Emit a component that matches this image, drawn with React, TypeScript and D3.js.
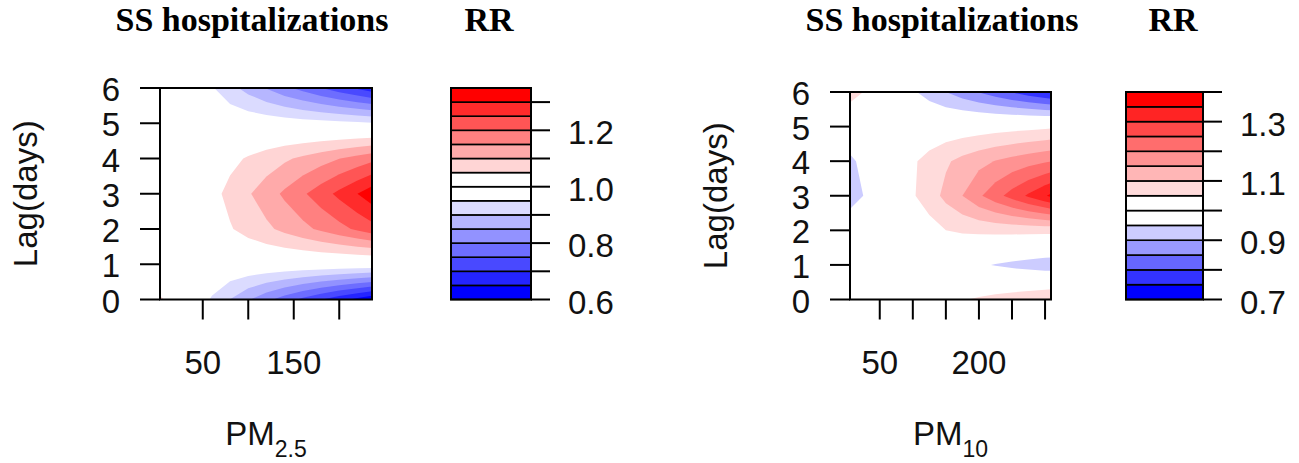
import React from 'react';
import * as d3 from 'd3';

// ---- data ----
const lags = [0, 1, 2, 3, 4, 5, 6];
const lagTicks = [0, 1, 2, 3, 4, 5, 6];

// PM2.5 panel: RR by lag (rows) and PM2.5 (columns)
const pm25 = [3, 20, 40, 60, 80, 100, 120, 140, 160, 180, 200, 220, 236];
const rrPm25 = [
  [1.056, 1.033, 0.993, 0.944, 0.899, 0.855, 0.814, 0.775, 0.738, 0.702, 0.668, 0.636, 0.61],
  [1.001, 1.001, 1.0, 0.999, 0.998, 0.997, 0.996, 0.995, 0.994, 0.993, 0.992, 0.991, 0.99],
  [0.977, 0.987, 1.003, 1.024, 1.046, 1.068, 1.09, 1.113, 1.136, 1.16, 1.184, 1.209, 1.23],
  [0.969, 0.982, 1.004, 1.034, 1.064, 1.095, 1.126, 1.159, 1.193, 1.227, 1.263, 1.3, 1.331],
  [0.981, 0.989, 1.003, 1.02, 1.037, 1.055, 1.073, 1.092, 1.11, 1.129, 1.149, 1.168, 1.185],
  [1.005, 1.003, 0.999, 0.995, 0.99, 0.986, 0.981, 0.977, 0.972, 0.968, 0.963, 0.959, 0.955],
  [1.045, 1.026, 0.994, 0.955, 0.917, 0.881, 0.847, 0.813, 0.782, 0.751, 0.721, 0.693, 0.67],
];
const levelsPm25 = [0.6, 0.65, 0.7, 0.75, 0.8, 0.85, 0.9, 0.95, 1.0, 1.05, 1.1, 1.15, 1.2, 1.25, 1.3, 1.35];
const xTicksPm25 = [50, 100, 150, 200];
const xLabelsPm25 = ['50', '', '150', ''];
const keyTicksPm25 = [0.6, 0.7, 0.8, 0.9, 1.0, 1.1, 1.2, 1.3];
const keyLabelsPm25 = ['0.6', '', '0.8', '', '1.0', '', '1.2', ''];

// PM10 panel
const pm10 = [5, 25, 50, 75, 100, 125, 150, 175, 200, 225, 250, 275, 300, 309];
const rrPm10 = [
  [0.976, 0.984, 0.994, 1.004, 1.015, 1.025, 1.036, 1.046, 1.057, 1.068, 1.079, 1.09, 1.101, 1.105],
  [1.02, 1.015, 1.005, 1.0, 0.995, 0.988, 0.98, 0.97, 0.958, 0.947, 0.937, 0.928, 0.92, 0.918],
  [0.985, 0.99, 0.995, 1.0, 1.01, 1.03, 1.05, 1.058, 1.062, 1.064, 1.065, 1.066, 1.066, 1.066],
  [0.928, 0.95, 0.982, 1.013, 1.045, 1.075, 1.114, 1.15, 1.192, 1.231, 1.27, 1.308, 1.346, 1.36],
  [0.94, 0.962, 0.99, 1.02, 1.043, 1.068, 1.093, 1.115, 1.135, 1.152, 1.167, 1.181, 1.194, 1.198],
  [0.99, 0.993, 0.998, 1.002, 1.006, 1.01, 1.014, 1.018, 1.022, 1.027, 1.031, 1.035, 1.039, 1.041],
  [1.076, 1.05, 1.018, 0.987, 0.957, 0.929, 0.9, 0.873, 0.847, 0.821, 0.796, 0.772, 0.749, 0.741],
];
const levelsPm10 = [0.7, 0.75, 0.8, 0.85, 0.9, 0.95, 1.0, 1.05, 1.1, 1.15, 1.2, 1.25, 1.3, 1.35, 1.4];
const xTicksPm10 = [50, 100, 150, 200, 250, 300];
const xLabelsPm10 = ['50', '', '', '200', '', ''];
const keyTicksPm10 = [0.7, 0.8, 0.9, 1.0, 1.1, 1.2, 1.3, 1.4];
const keyLabelsPm10 = ['0.7', '', '0.9', '', '1.1', '', '1.3', ''];

const SANS = "'Liberation Sans', Arial, sans-serif";
const SERIF = "'Liberation Serif', 'Times New Roman', serif";

// blue->white below 1, white->red above 1 (as dlnm does)
function bandColors(levels: number[]) {
  const nLow = levels.filter((l) => l < 1).length;
  const nHigh = levels.filter((l) => l > 1).length;
  const lo = d3.interpolateRgb('blue', 'white');
  const hi = d3.interpolateRgb('white', 'red');
  return [
    ...d3.range(nLow).map((i) => lo(i / (nLow - 1))),
    ...d3.range(nHigh).map((i) => hi(i / (nHigh - 1))),
  ];
}

function Panel(props: any) {
  const { pm, rr, levels, xTicks, xLabels, keyTicks, keyLabels, box, keyBox, sub, titleX, rrX, lagX, id } = props;
  const x = d3.scaleLinear().domain([pm[0], pm[pm.length - 1]]).range([box.x0, box.x1]);
  const y = d3.scaleLinear().domain([0, 6]).range([box.y1, box.y0]);
  const nx = pm.length;
  const ny = lags.length;
  // grid index space -> data space (cell centres at i + 0.5)
  const gx = d3.scaleLinear().domain([0, ...d3.range(nx).map((i) => i + 0.5), nx]).range([pm[0], ...pm, pm[nx - 1]]);
  const gy = d3.scaleLinear().domain([0, ...d3.range(ny).map((i) => i + 0.5), ny]).range([lags[0], ...lags, lags[ny - 1]]);
  const path = d3.geoPath(
    d3.geoTransform({
      point(px: number, py: number) {
        (this as any).stream.point(x(gx(px)), y(gy(py)));
      },
    })
  );
  const colors = bandColors(levels);
  const contours = d3.contours().size([nx, ny]).thresholds(levels.slice(0, -1))(rr.flat());
  const k = d3.scaleLinear().domain([levels[0], levels[levels.length - 1]]).range([keyBox.y1, keyBox.y0]);
  const midX = (box.x0 + box.x1) / 2;
  const midY = (box.y0 + box.y1) / 2;

  return (
    <g>
      <text x={titleX} y={31} textAnchor="middle" fontFamily={SERIF} fontWeight="bold" fontSize={34}>
        SS hospitalizations
      </text>
      <text x={rrX} y={31} textAnchor="middle" fontFamily={SERIF} fontWeight="bold" fontSize={34}>
        RR
      </text>

      <clipPath id={id}>
        <rect x={box.x0} y={box.y0} width={box.x1 - box.x0} height={box.y1 - box.y0} />
      </clipPath>
      <g clipPath={`url(#${id})`}>
        {contours.map((c, i) => (
          <path key={'c' + i} d={path(c as any) || ''} fill={colors[i]} stroke="none" />
        ))}
      </g>
      <rect x={box.x0} y={box.y0} width={box.x1 - box.x0} height={box.y1 - box.y0} fill="none" stroke="#000" strokeWidth={2} />

      {lagTicks.map((t) => (
        <g key={'y' + t}>
          <line x1={box.x0 - 20} x2={box.x0} y1={y(t)} y2={y(t)} stroke="#000" strokeWidth={2} />
          <text x={box.x0 - 40} y={y(t) + 13} textAnchor="end" fontFamily={SANS} fontSize={33} fill="#111">
            {t}
          </text>
        </g>
      ))}
      {xTicks.map((t: number, i: number) => (
        <g key={'x' + t}>
          <line x1={x(t)} x2={x(t)} y1={box.y1} y2={box.y1 + 20} stroke="#000" strokeWidth={2} />
          {xLabels[i] && (
            <text x={x(t)} y={374} textAnchor="middle" fontFamily={SANS} fontSize={33} fill="#111">
              {xLabels[i]}
            </text>
          )}
        </g>
      ))}
      <text transform={`translate(${lagX},${midY}) rotate(-90)`} textAnchor="middle" fontFamily={SANS} fontSize={33} fill="#111">
        Lag(days)
      </text>
      <text x={midX} y={445} textAnchor="middle" fontFamily={SANS} fontSize={33} fill="#111">
        PM
        <tspan fontSize={23} dy={12}>
          {sub}
        </tspan>
      </text>

      {colors.map((c, i) => (
        <rect
          key={'b' + i}
          x={keyBox.x0}
          y={k(levels[i + 1])}
          width={keyBox.x1 - keyBox.x0}
          height={k(levels[i]) - k(levels[i + 1])}
          fill={c}
          stroke="#000"
          strokeWidth={1.6}
        />
      ))}
      <rect x={keyBox.x0} y={keyBox.y0} width={keyBox.x1 - keyBox.x0} height={keyBox.y1 - keyBox.y0} fill="none" stroke="#000" strokeWidth={2} />
      {keyTicks.map((t: number, i: number) => (
        <g key={'k' + i}>
          <line x1={keyBox.x1} x2={keyBox.x1 + 19} y1={k(t)} y2={k(t)} stroke="#000" strokeWidth={2} />
          {keyLabels[i] && (
            <text x={keyBox.x1 + 37} y={k(t) + 14} fontFamily={SANS} fontSize={33} fill="#111">
              {keyLabels[i]}
            </text>
          )}
        </g>
      ))}
    </g>
  );
}

export default function App() {
  return (
    <svg width={1299} height={463} style={{ position: 'absolute', left: 0, top: 0, background: '#fff' }}>
      <rect width={1299} height={463} fill="#fff" />
      <Panel
        id="clipA"
        pm={pm25}
        rr={rrPm25}
        levels={levelsPm25}
        xTicks={xTicksPm25}
        xLabels={xLabelsPm25}
        keyTicks={keyTicksPm25}
        keyLabels={keyLabelsPm25}
        box={{ x0: 160, x1: 372, y0: 88, y1: 299.5 }}
        keyBox={{ x0: 451, x1: 531, y0: 88, y1: 299.5 }}
        sub="2.5"
        titleX={252}
        rrX={489}
        lagX={37}
      />
      <Panel
        id="clipB"
        pm={pm10}
        rr={rrPm10}
        levels={levelsPm10}
        xTicks={xTicksPm10}
        xLabels={xLabelsPm10}
        keyTicks={keyTicksPm10}
        keyLabels={keyLabelsPm10}
        box={{ x0: 850, x1: 1051, y0: 92, y1: 299.5 }}
        keyBox={{ x0: 1126, x1: 1203, y0: 92, y1: 299.5 }}
        sub="10"
        titleX={942}
        rrX={1173}
        lagX={727}
      />
    </svg>
  );
}
